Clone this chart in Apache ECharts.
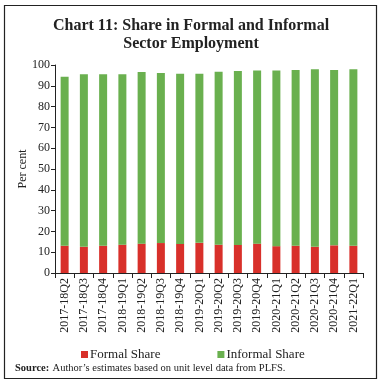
<!DOCTYPE html>
<html><head><meta charset="utf-8">
<script src="https://cdn.jsdelivr.net/npm/echarts@6/dist/echarts.min.js"></script>
<style>html,body{margin:0;padding:0;background:#fff}#c{width:382px;height:383px}</style>
</head><body><div id="c"></div>
<script>
var categories = ['2017-18Q2','2017-18Q3','2017-18Q4','2018-19Q1','2018-19Q2','2018-19Q3','2018-19Q4','2019-20Q1','2019-20Q2','2019-20Q3','2019-20Q4','2020-21Q1','2020-21Q2','2020-21Q3','2020-21Q4','2021-22Q1'];
var formalShare = [13.1, 12.6, 13.1, 13.6, 14.1, 14.4, 14.0, 14.5, 13.6, 13.5, 14.1, 12.9, 13.1, 12.6, 13.3, 13.1];
var informalShare = [81.2, 83.0, 82.4, 81.9, 82.5, 81.8, 81.8, 81.3, 83.1, 83.6, 83.3, 84.5, 84.5, 85.4, 84.3, 84.9];
var yTicks = [0, 10, 20, 30, 40, 50, 60, 70, 80, 90, 100];

var FONT = '"Liberation Serif", serif';
var chart = echarts.init(document.getElementById('c'));
chart.setOption({
  animation: false,
  textStyle: {fontFamily: FONT},
  title: {
    text: 'Chart 11: Share in Formal and Informal\nSector Employment',
    left: 'center', top: 12,
    textStyle: {fontFamily: FONT, fontSize: 16, fontWeight: 'bold', color: '#222', lineHeight: 18}
  },
  graphic: [
    {type: 'rect', shape: {x: 4.5, y: 5.5, width: 372, height: 373}, style: {fill: 'none', stroke: '#222', lineWidth: 1.2}, silent: true},
    {type: 'text', left: 15, top: 362, style: {rich: {b: {fontWeight: 'bold', fontFamily: FONT, fontSize: 10.5, fill: '#222'}, n: {fontFamily: FONT, fontSize: 10.5, fill: '#222'}}, text: '{b|Source:} {n|Author\u2019s estimates based on unit level data from PLFS.}'}}
  ],
  legend: {
    left: 76, top: 343, itemWidth: 7, itemHeight: 7, itemGap: 57,
    icon: 'rect',
    textStyle: {fontFamily: FONT, fontSize: 13, color: '#222', padding: [0, 0, 0, -3]},
    data: ['Formal Share', 'Informal Share']
  },
  grid: {left: 55, right: 19, top: 65, bottom: 110},
  xAxis: {
    type: 'category', data: categories,
    axisLine: {lineStyle: {color: '#222'}},
    axisTick: {show: true, length: 5, lineStyle: {color: '#222'}},
    axisLabel: {rotate: 90, fontFamily: FONT, fontSize: 12, color: '#222', margin: 5, interval: 0}
  },
  yAxis: {
    type: 'value', min: yTicks[0], max: yTicks[yTicks.length - 1], interval: 10,
    name: 'Per cent', nameLocation: 'middle', nameGap: 26, nameMoveOverlap: false,
    nameTextStyle: {fontFamily: FONT, fontSize: 12, color: '#222'},
    axisLine: {show: true, lineStyle: {color: '#222'}},
    axisTick: {show: true, length: 4, lineStyle: {color: '#222'}},
    splitLine: {show: false},
    axisLabel: {fontFamily: FONT, fontSize: 12, color: '#222', margin: 5}
  },
  series: [
    {name: 'Formal Share', type: 'bar', stack: 't', data: formalShare, barWidth: 8, itemStyle: {color: '#d8302a'}},
    {name: 'Informal Share', type: 'bar', stack: 't', data: informalShare, barWidth: 8, itemStyle: {color: '#6ab04f'}}
  ]
});
</script></body></html>
